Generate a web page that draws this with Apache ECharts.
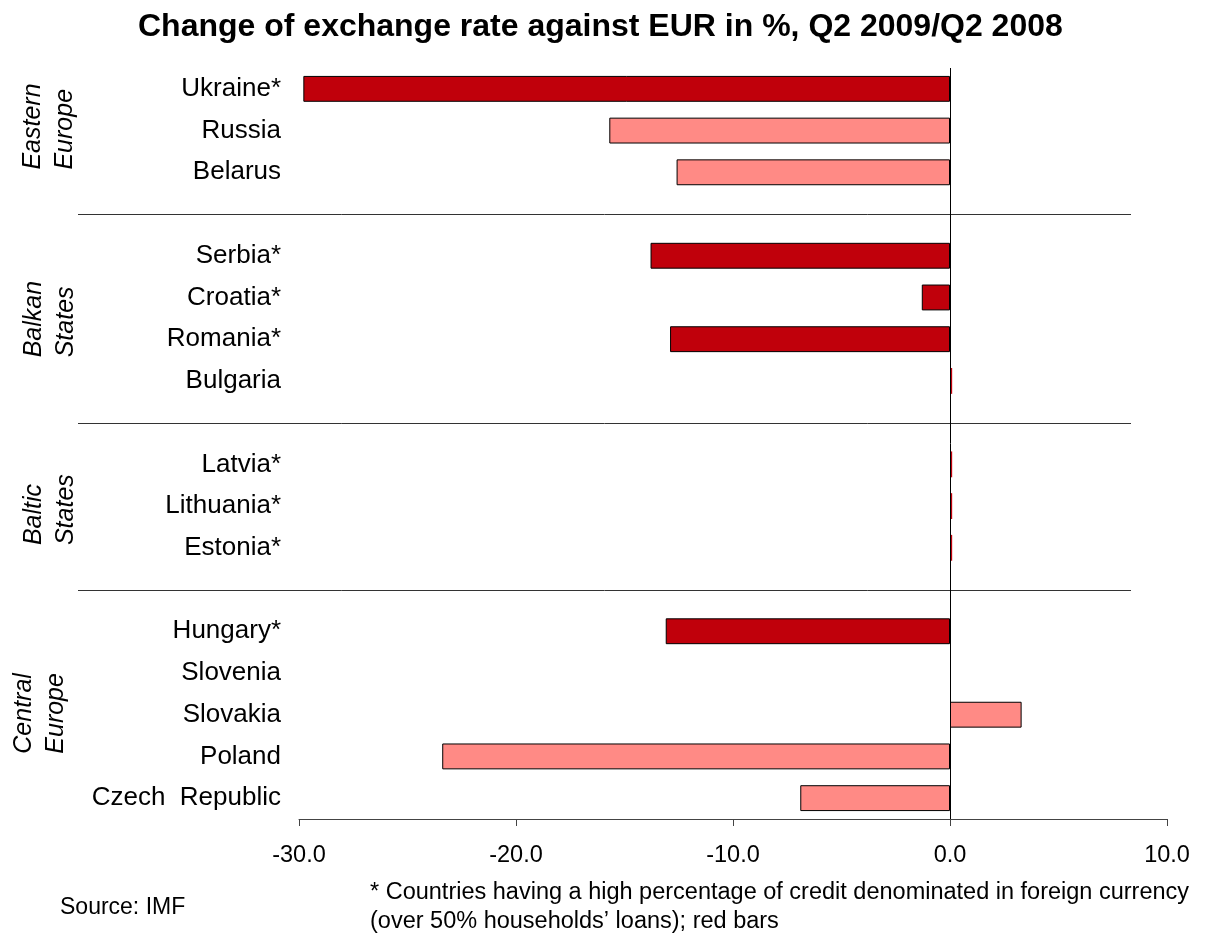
<!DOCTYPE html>
<html>
<head>
<meta charset="utf-8">
<script src="https://cdn.jsdelivr.net/npm/echarts@6/dist/echarts.min.js"></script>
<style>
  html, body { margin: 0; padding: 0; background: #fff; }
  #chart { width: 1208px; height: 935px; }
</style>
</head>
<body>
<div id="chart"></div>
<script>
// Countries top to bottom; empty names are the gaps between regional groups
const countries = [
  'Ukraine*', 'Russia', 'Belarus', '',
  'Serbia*', 'Croatia*', 'Romania*', 'Bulgaria', '',
  'Latvia*', 'Lithuania*', 'Estonia*', '',
  'Hungary*', 'Slovenia', 'Slovakia', 'Poland', 'Czech  Republic'
];
// Change of exchange rate against EUR, %
const changePct = [
  -29.8, -15.7, -12.6, null,
  -13.8, -1.3, -12.9, 0.1, null,
  0.1, 0.1, 0.1, null,
  -13.1, 0, 3.3, -23.4, -6.9
];
// 1 = high share of foreign-currency credit (dark red), 0 = other (light red)
const highFxCredit = [
  1, 0, 0, 0,
  1, 1, 1, 1, 0,
  1, 1, 1, 0,
  1, 0, 0, 0, 0
];
const xTicks = { min: -30, max: 10, interval: 10 };
// Region names with the index range of their rows
const regions = [
  { name: 'Eastern\nEurope', first: 0, last: 2 },
  { name: 'Balkan\nStates', first: 4, last: 7 },
  { name: 'Baltic\nStates', first: 9, last: 11 },
  { name: 'Central\nEurope', first: 13, last: 17 }
];
const separatorRows = [3, 8, 12];

const DARK = '#c0000b';
const LIGHT = '#ff8a85';
const FONT = '"Liberation Sans", Arial, sans-serif';

const barData = changePct.map((v, i) => ({
  value: v,
  itemStyle: {
    color: highFxCredit[i] ? DARK : LIGHT,
    borderColor: '#000',
    borderWidth: (v !== null && Math.abs(v) < 0.5) ? 0 : 1
  }
}));

const chart = echarts.init(document.getElementById('chart'), null, { renderer: 'canvas' });

chart.setOption({
  animation: false,
  backgroundColor: '#fff',
  title: {
    text: 'Change of exchange rate against EUR in %, Q2 2009/Q2 2008',
    left: 133,
    top: 6,
    textStyle: { fontFamily: FONT, fontSize: 32, fontWeight: 'bold', color: '#000' }
  },
  grid: { left: 299, right: 41, top: 68, bottom: 116, containLabel: false },
  xAxis: {
    type: 'value',
    min: xTicks.min,
    max: xTicks.max,
    interval: xTicks.interval,
    splitLine: { show: false },
    axisLine: { show: true, onZero: false, lineStyle: { color: '#444', width: 1 } },
    axisTick: { show: true, length: 7, inside: false, lineStyle: { color: '#444' } },
    axisLabel: {
      margin: 25,
      fontFamily: FONT,
      fontSize: 23.5,
      color: '#000',
      formatter: v => v.toFixed(1)
    }
  },
  yAxis: {
    type: 'category',
    data: countries,
    inverse: true,
    axisLine: { show: false, onZero: false },
    axisTick: { show: false },
    splitLine: { show: false },
    axisLabel: {
      margin: 18,
      fontFamily: FONT,
      fontSize: 26,
      color: '#000',
      interval: 0
    }
  },
  series: [{
    type: 'bar',
    data: barData,
    barWidth: '62%',
    markLine: {
      silent: true,
      symbol: ['none', 'none'],
      label: { show: false },
      lineStyle: { color: '#000', width: 1, type: 'solid' },
      data: [{ xAxis: 0 }]
    }
  }]
});

// Decorations placed from the axis scales: group separators, region names, notes
function rowY(i) { return chart.convertToPixel({ yAxisIndex: 0 }, i); }

const graphics = [];
separatorRows.forEach(r => {
  const y = Math.round(rowY(r)) + 0.5;
  graphics.push({
    type: 'line',
    silent: true,
    shape: { x1: 78, y1: y, x2: 1131, y2: y },
    style: { stroke: '#333', lineWidth: 1 }
  });
});

const regionX = [49, 50, 50, 40];
regions.forEach((g, k) => {
  const yBottom = (rowY(g.first) + rowY(g.last)) / 2 + 39;
  graphics.push({
    type: 'text',
    silent: true,
    x: regionX[k],
    y: yBottom,
    rotation: Math.PI / 2,
    style: {
      text: g.name,
      fontFamily: FONT,
      fontSize: 25,
      fontStyle: 'italic',
      lineHeight: 32,
      fill: '#000',
      align: 'left',
      verticalAlign: 'middle'
    }
  });
});

graphics.push({
  type: 'text',
  silent: true,
  x: 60,
  y: 908,
  style: {
    text: 'Source: IMF', fontFamily: FONT, fontSize: 23, fill: '#000',
    align: 'left', verticalAlign: 'middle'
  }
});
graphics.push({
  type: 'text',
  silent: true,
  x: 370,
  y: 907,
  style: {
    text: '* Countries having a high percentage of credit denominated in foreign currency\n(over 50% households\u2019 loans); red bars',
    fontFamily: FONT,
    fontSize: 23.5,
    lineHeight: 29,
    fill: '#000',
    align: 'left',
    verticalAlign: 'middle'
  }
});

chart.setOption({ graphic: graphics });
</script>
</body>
</html>
